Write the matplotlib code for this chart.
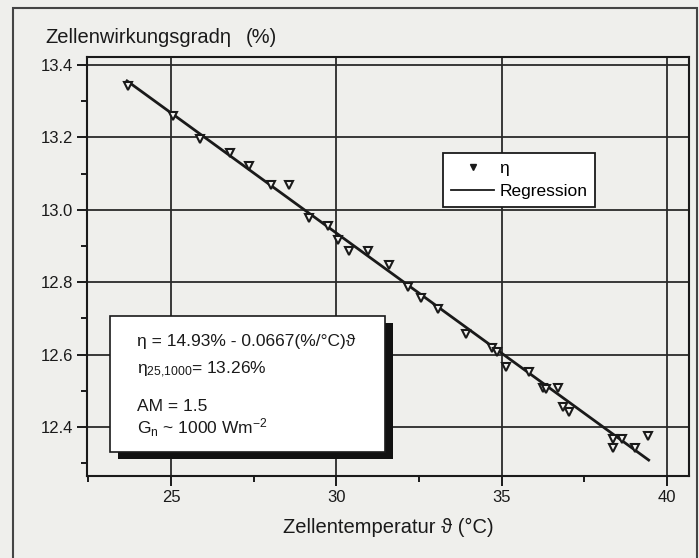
"""Zellenwirkungsgrad vs. Zellentemperatur with linear regression."""
import matplotlib
import numpy as np

matplotlib.use('Agg')
import matplotlib.pyplot as plt
from matplotlib.lines import Line2D
from matplotlib.patches import Rectangle
from matplotlib.ticker import MultipleLocator, FormatStrFormatter

# measured points (cell temperature in degC, efficiency in %)
temp = [23.70, 25.06, 25.88, 26.79, 27.36, 28.02, 28.57, 29.17, 29.75, 30.05,
        30.38, 30.96, 31.59, 32.17, 32.56, 33.07, 33.92, 34.71, 34.86, 35.13,
        35.83, 36.25, 36.34, 36.70, 36.85, 37.03, 38.36, 38.64, 38.36, 39.03,
        39.42]
eta = [13.342, 13.259, 13.196, 13.157, 13.121, 13.069, 13.069, 12.977, 12.955, 12.917,
       12.886, 12.886, 12.848, 12.787, 12.756, 12.726, 12.657, 12.618, 12.607, 12.566,
       12.552, 12.508, 12.505, 12.508, 12.455, 12.441, 12.367, 12.367, 12.342, 12.342,
       12.375]

# regression line end points as drawn
reg_temp = [23.67, 39.45]
reg_eta = [13.356, 12.309]

x_ticks = [25, 30, 35, 40]
y_ticks = [12.4, 12.6, 12.8, 13.0, 13.2, 13.4]

info_lines = [
    'η = 14.93% - 0.0667(%/°C)ϑ',
    'η$_{25{,}1000}$= 13.26%',
    'AM = 1.5',
    'G$_{\\mathrm{n}}$ ~ 1000 Wm$^{-2}$',
]

W, H = 699, 558
BG = '#efefec'
INK = '#1a1a1a'

plt.rcParams['font.family'] = ['Liberation Sans', 'DejaVu Sans']
plt.rcParams['mathtext.fontset'] = 'custom'
plt.rcParams['mathtext.rm'] = 'Liberation Sans'
plt.rcParams['mathtext.it'] = 'Liberation Sans'
plt.rcParams['mathtext.default'] = 'regular'


def fx(px):
    return px / W


def fy(py):
    return 1 - py / H


fig = plt.figure(figsize=(W / 100, H / 100), dpi=100, facecolor=BG)
ax = fig.add_axes([fx(87), fy(476), fx(689 - 87), (476 - 57) / H])
ax.set_facecolor(BG)

ax.plot(reg_temp, reg_eta, color=INK, linewidth=2.0, zorder=3)
ax.plot(temp, eta, linestyle='none', marker='v', markersize=6,
        markerfacecolor='#f6f6f4', markeredgecolor=INK, markeredgewidth=1.5, zorder=4)

ax.set_xlim(22.46, 40.67)
ax.set_ylim(12.265, 13.422)
ax.set_xticks(x_ticks)
ax.set_yticks(y_ticks)
ax.xaxis.set_minor_locator(MultipleLocator(2.5))
ax.yaxis.set_minor_locator(MultipleLocator(0.1))
ax.yaxis.set_major_formatter(FormatStrFormatter('%.1f'))
ax.tick_params(which='major', length=7, width=1.4, pad=3, labelsize=12, colors=INK)
ax.tick_params(which='minor', length=4, width=1.4, colors=INK)
ax.grid(True, which='major', color='#2a2a2a', linewidth=1.3)
ax.set_axisbelow(True)
for sp in ax.spines.values():
    sp.set_linewidth(1.5)
    sp.set_color(INK)

# legend
handles = [
    Line2D([], [], linestyle='none', marker='v', markersize=5, color=INK),
    Line2D([], [], color=INK, linewidth=1.3),
]
leg = ax.legend(handles, ['η', 'Regression'], loc='upper left',
                bbox_to_anchor=((443 - 87) / 602, (476 - 153) / 419),
                borderaxespad=0, fontsize=12.5, fancybox=False, framealpha=1,
                edgecolor=INK, borderpad=0.45, handlelength=2.5, handletextpad=0.3,
                labelspacing=0.45)
leg.get_frame().set_linewidth(1.3)
leg.set_zorder(6)

# info box with drop shadow
fig.add_artist(Rectangle((fx(118), fy(459)), fx(393 - 118), (459 - 323) / H,
                         transform=fig.transFigure, facecolor='#111111', edgecolor='none', zorder=5))
fig.add_artist(Rectangle((fx(110), fy(452)), fx(385 - 110), (452 - 316) / H,
                         transform=fig.transFigure, facecolor='white', edgecolor=INK,
                         linewidth=1.2, zorder=6))
for line, base in zip(info_lines, [346, 374, 411, 434]):
    fig.text(fx(137), fy(base), line, fontsize=12.5, color=INK, va='baseline', zorder=7)

# axis labels
fig.text(fx(45), fy(43), 'Zellenwirkungsgradη', fontsize=14.5, color=INK, va='baseline')
fig.text(fx(246), fy(43), '(%)', fontsize=14.5, color=INK, va='baseline')
fig.text(fx(388), fy(533), 'Zellentemperatur ϑ (°C)', fontsize=14.5, color=INK,
         ha='center', va='baseline')

# outer frame of the scanned figure
fig.add_artist(Rectangle((fx(13), fy(575)), fx(697 - 13), (575 - 8) / H,
                         transform=fig.transFigure, facecolor='none', edgecolor='#444444',
                         linewidth=1.5, zorder=1))

fig.savefig('out.png', dpi=100, facecolor=BG)
plt.close(fig)
